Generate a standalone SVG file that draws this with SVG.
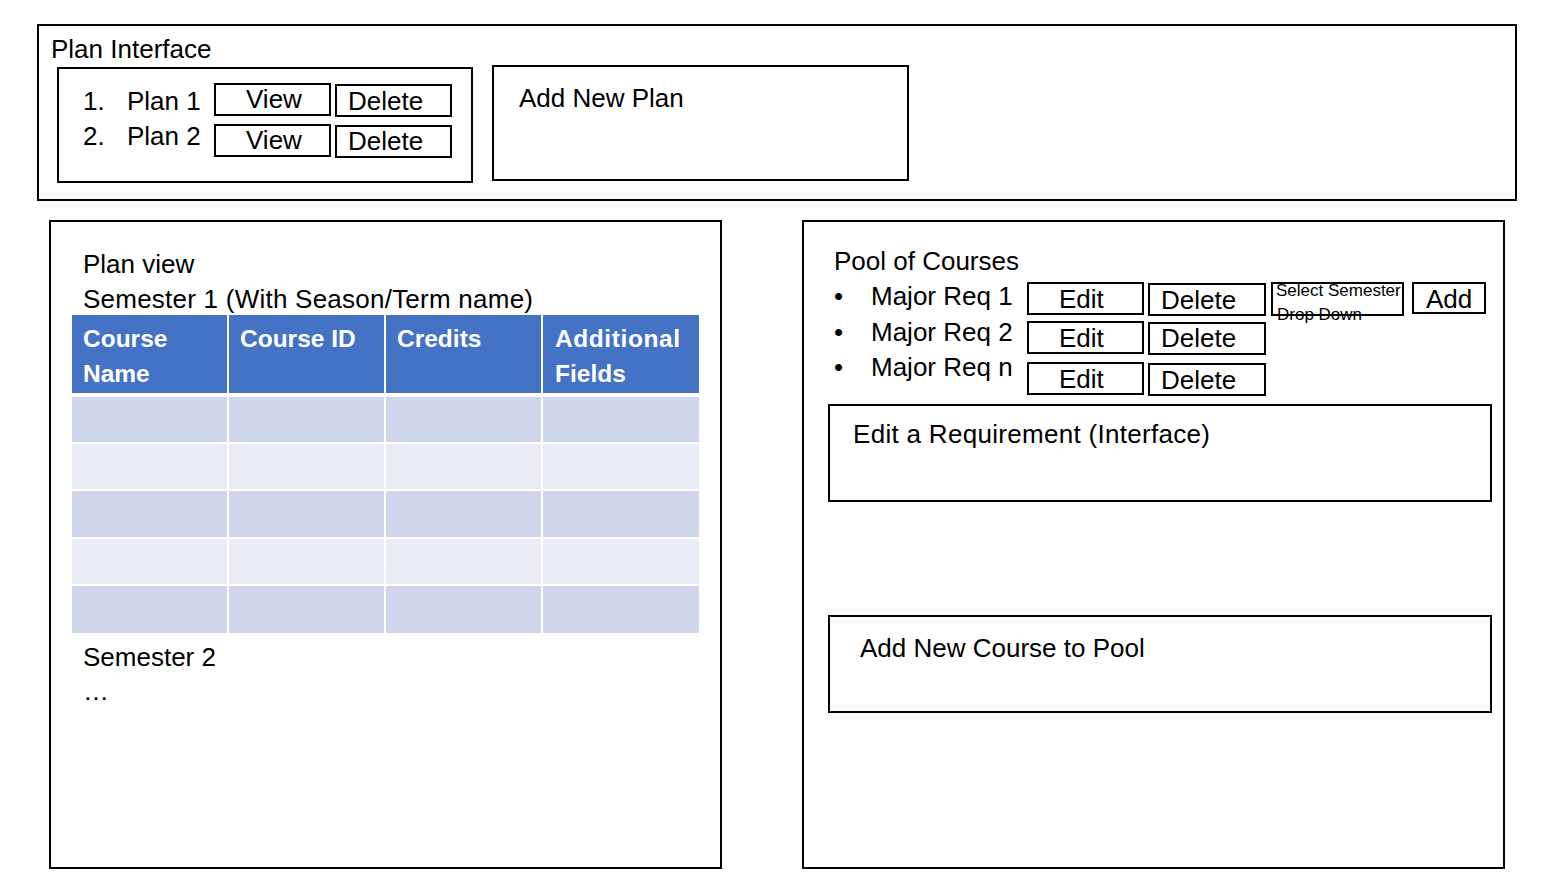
<svg xmlns="http://www.w3.org/2000/svg" width="1553" height="877" viewBox="0 0 1553 877">
<style>
.box{fill:#fff;stroke:#000;stroke-width:2}
.t{font-family:"Liberation Sans",Arial,sans-serif;font-size:26px;fill:#000}
.th{font-family:"Liberation Sans",Arial,sans-serif;font-size:24.5px;font-weight:bold;fill:#fff}
.s{font-family:"Liberation Sans",Arial,sans-serif;font-size:17px;fill:#000}
.hd{fill:#4472c4}
.r1{fill:#cfd5ea}
.r2{fill:#e9ebf5}
.grid{stroke:#fff;stroke-width:2}
</style>
<rect width="1553" height="877" fill="#fff"/>
<g id="plan-interface">
<rect class="box" x="38" y="25" width="1478" height="175"/>
<text class="t" x="51" y="58">Plan Interface</text>
</g>
<g id="plan-list">
<rect class="box" x="58" y="68" width="414" height="114"/>
<text class="t" x="83" y="110">1.</text>
<text class="t" x="127" y="110">Plan 1</text>
<text class="t" x="83" y="145">2.</text>
<text class="t" x="127" y="145">Plan 2</text>
</g>
<g id="view1"><rect class="box" x="215" y="84" width="115" height="31"/><text class="t" x="246" y="108">View</text></g>
<g id="delete1"><rect class="box" x="336" y="85" width="115" height="31"/><text class="t" x="348" y="110">Delete</text></g>
<g id="view2"><rect class="box" x="215" y="125" width="115" height="31"/><text class="t" x="246" y="149">View</text></g>
<g id="delete2"><rect class="box" x="336" y="126" width="115" height="31"/><text class="t" x="348" y="150">Delete</text></g>
<g id="add-new-plan">
<rect class="box" x="493" y="66" width="415" height="114"/>
<text class="t" x="519" y="107">Add New Plan</text>
</g>
<g id="plan-view">
<rect class="box" x="50" y="221" width="671" height="647"/>
<text class="t" x="83" y="273">Plan view</text>
<text class="t" x="83" y="308" textLength="450" lengthAdjust="spacing">Semester 1 (With Season/Term name)</text>
<rect class="hd" x="72" y="315" width="627" height="79"/>
<rect class="r1" x="72" y="396" width="627" height="47"/>
<rect class="r2" x="72" y="443" width="627" height="47"/>
<rect class="r1" x="72" y="490" width="627" height="48"/>
<rect class="r2" x="72" y="538" width="627" height="47"/>
<rect class="r1" x="72" y="585" width="627" height="48"/>
<g class="grid">
<line x1="228" y1="315" x2="228" y2="633"/>
<line x1="385" y1="315" x2="385" y2="633"/>
<line x1="542" y1="315" x2="542" y2="633"/>
<line x1="72" y1="395" x2="699" y2="395" stroke-width="4"/>
<line x1="72" y1="443" x2="699" y2="443"/>
<line x1="72" y1="490" x2="699" y2="490"/>
<line x1="72" y1="538" x2="699" y2="538"/>
<line x1="72" y1="585" x2="699" y2="585"/>
</g>
<text class="th" x="83" y="347">Course</text>
<text class="th" x="83" y="382">Name</text>
<text class="th" x="240" y="347">Course ID</text>
<text class="th" x="397" y="347">Credits</text>
<text class="th" x="555" y="347" textLength="125" lengthAdjust="spacing">Additional</text>
<text class="th" x="555" y="382">Fields</text>
<text class="t" x="83" y="666">Semester 2</text>
<text class="t" x="83" y="700">…</text>
</g>
<g id="pool">
<rect class="box" x="803" y="221" width="701" height="647"/>
<text class="t" x="834" y="270">Pool of Courses</text>
<text class="t" x="834" y="305">•</text>
<text class="t" x="871" y="305">Major Req 1</text>
<text class="t" x="834" y="341">•</text>
<text class="t" x="871" y="341">Major Req 2</text>
<text class="t" x="834" y="376">•</text>
<text class="t" x="871" y="376">Major Req n</text>
</g>
<g id="edit1"><rect class="box" x="1028" y="283" width="115" height="31"/><text class="t" x="1059" y="308">Edit</text></g>
<g id="pdelete1"><rect class="box" x="1149" y="284" width="116" height="31"/><text class="t" x="1161" y="309">Delete</text></g>
<g id="select-semester"><rect class="box" x="1272" y="283" width="131" height="32"/><text class="s" x="1276" y="296">Select Semester</text><text class="s" x="1277" y="320">Drop Down</text></g>
<g id="add"><rect class="box" x="1413" y="283" width="72" height="30"/><text class="t" x="1426" y="308">Add</text></g>
<g id="edit2"><rect class="box" x="1028" y="322" width="115" height="31"/><text class="t" x="1059" y="347">Edit</text></g>
<g id="pdelete2"><rect class="box" x="1149" y="323" width="116" height="31"/><text class="t" x="1161" y="347">Delete</text></g>
<g id="edit3"><rect class="box" x="1028" y="363" width="115" height="31"/><text class="t" x="1059" y="388">Edit</text></g>
<g id="pdelete3"><rect class="box" x="1149" y="364" width="116" height="31"/><text class="t" x="1161" y="389">Delete</text></g>
<g id="edit-requirement">
<rect class="box" x="829" y="405" width="662" height="96"/>
<text class="t" x="853" y="443" textLength="357" lengthAdjust="spacing">Edit a Requirement (Interface)</text>
</g>
<g id="add-new-course">
<rect class="box" x="829" y="616" width="662" height="96"/>
<text class="t" x="860" y="657">Add New Course to Pool</text>
</g>
<g id="connectors"></g>
</svg>
